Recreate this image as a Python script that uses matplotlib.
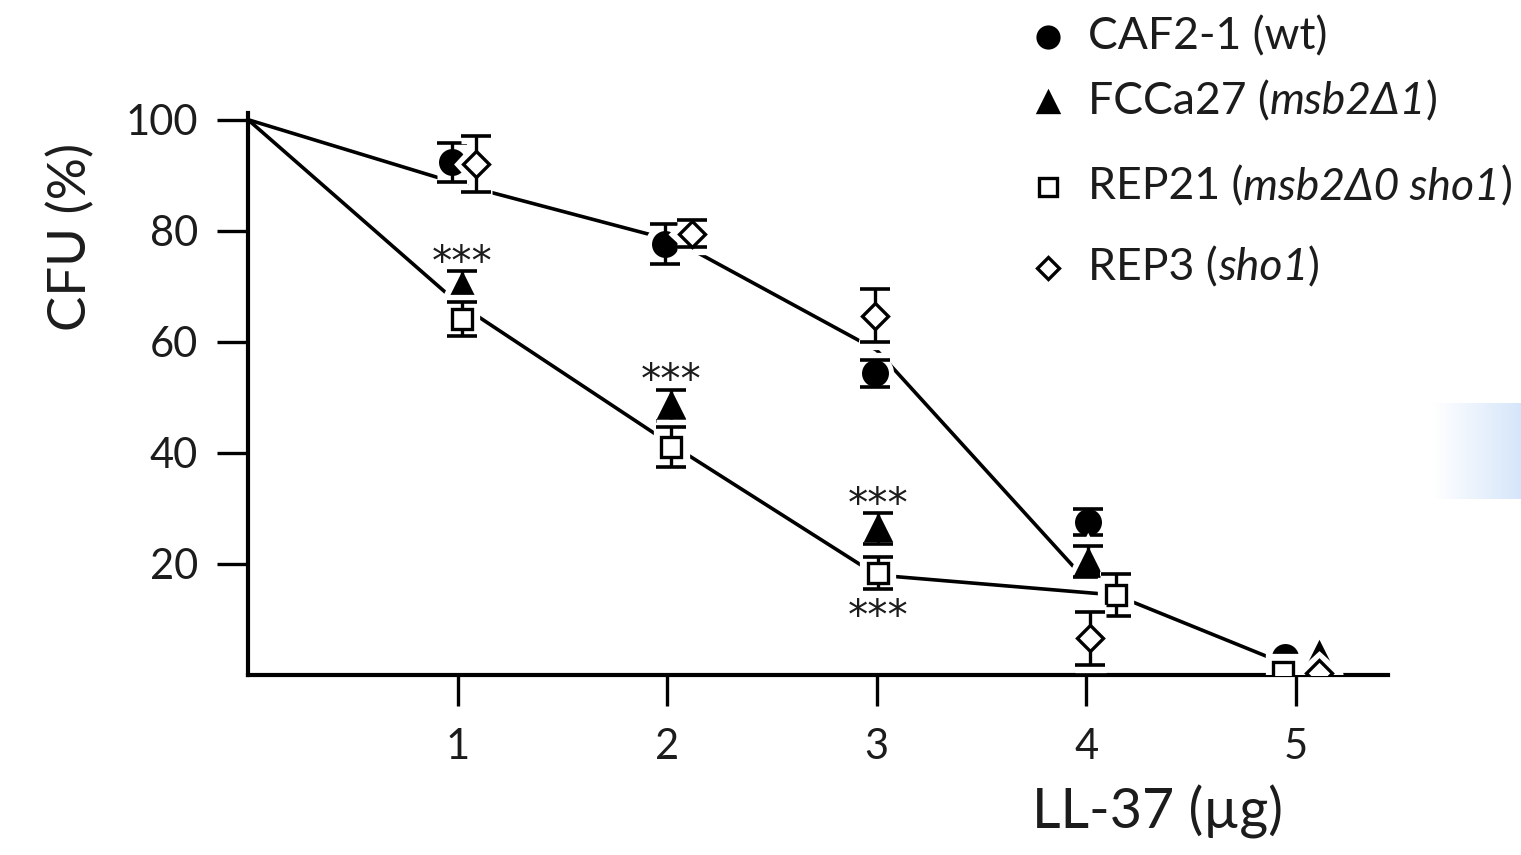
import numpy as np
import matplotlib
matplotlib.use('Agg')
import matplotlib.pyplot as plt
import matplotlib.patheffects as pe
from matplotlib.lines import Line2D
from matplotlib.colors import LinearSegmentedColormap

FAM = ['Lato', 'DejaVu Sans']
plt.rcParams['font.family'] = FAM

# ---------------- data ----------------
wt_x = [0.975, 1.99, 2.99, 4.01, 4.95]
wt_y = [92.3, 77.6, 54.3, 27.6, 3.2]
wt_e = [3.5, 3.6, 2.4, 2.3, 0]

msb_x = [1.02, 2.02, 3.005, 4.01, 5.11]
msb_y = [70.0, 48.6, 26.4, 20.4, 3.6]
msb_e = [2.8, 2.8, 2.8, 2.8, 0]

rep21_x = [1.02, 2.02, 3.005, 4.14, 4.94]
rep21_y = [64.1, 41.1, 18.3, 14.4, 0.6]
rep21_e = [3.0, 3.6, 2.9, 3.8, 0]

rep3_x = [1.09, 2.12, 2.99, 4.02, 5.11]
rep3_y = [92.0, 79.5, 64.7, 6.6, 0.3]
rep3_e = [5.0, 2.4, 4.8, 4.8, 0]

upper_x = [0, 1, 2.05, 3, 4]
upper_y = [100, 88.5, 78.0, 58.5, 17.0]
lower_x = [0, 1, 2, 3, 4.14, 4.95]
lower_y = [100, 67.0, 42.0, 18.0, 14.4, 2.0]

star_x = [1.02, 2.02, 3.005, 3.005]
star_y = [75.5, 54.3, 32.0, 11.8]
star_text = "***"

x_ticks = [1, 2, 3, 4, 5]
y_ticks = [20, 40, 60, 80, 100]
x_label = "LL-37 (µg)"
y_label = "CFU (%)"

legend_labels = [
    [("CAF2-1 (wt)", 'normal')],
    [("FCCa27 (", 'normal'), ("msb2Δ1", 'italic'), (")", 'normal')],
    [("REP21 (", 'normal'), ("msb2Δ0 sho1", 'italic'), (")", 'normal')],
    [("REP3 (", 'normal'), ("sho1", 'italic'), (")", 'normal')],
]

# ---------------- figure ----------------
W, H = 1521, 855
INK = '#1c1c1c'
fig = plt.figure(figsize=(W / 100, H / 100), dpi=100)
ax = fig.add_axes([248 / W, (H - 675) / H, 1140 / W, 562 / H])
ax.set_xlim(0, 5.44)
ax.set_ylim(0, 101.2)

for s in ['top', 'right']:
    ax.spines[s].set_visible(False)
for s in ['left', 'bottom']:
    ax.spines[s].set_linewidth(3)
    ax.spines[s].set_capstyle('projecting')

ax.set_xticks(x_ticks)
ax.set_yticks(y_ticks)
ax.tick_params(axis='both', direction='out', length=22, width=2.4,
               labelsize=30, labelcolor=INK)
ax.tick_params(axis='y', pad=14)
ax.tick_params(axis='x', pad=16)

# trend lines
ax.plot(upper_x, upper_y, color='black', lw=2.6, zorder=1, solid_capstyle='butt')
ax.plot(lower_x, lower_y, color='black', lw=2.6, zorder=1, solid_capstyle='butt')

halo = [pe.withStroke(linewidth=11, foreground='white')]
series = [
    (wt_x, wt_y, wt_e, 'o', 'black', 17, 3),
    (msb_x, msb_y, msb_e, '^', 'black', 17, 4),
    (rep21_x, rep21_y, rep21_e, 's', 'white', 15, 5),
    (rep3_x, rep3_y, rep3_e, 'D', 'white', 13, 6),
]
for xs, ys, es, mk, fc, ms, z in series:
    xs, ys, es = np.array(xs), np.array(ys), np.array(es, dtype=float)
    m = es > 0
    # pass 1: white halo around the whole group
    eb = ax.errorbar(xs[m], ys[m], yerr=es[m], fmt='none', ecolor='white',
                     elinewidth=2.4, capsize=11, capthick=2.6, zorder=z)
    for art in list(eb.lines[1]) + list(eb.lines[2]):
        art.set_path_effects(halo)
        art.set_zorder(z)
    ln, = ax.plot(xs, ys, linestyle='none', marker=mk, markersize=ms,
                  markerfacecolor='white', markeredgecolor='white',
                  markeredgewidth=2.4, zorder=z)
    ln.set_path_effects(halo)
    # pass 2: error bars
    ax.errorbar(xs[m], ys[m], yerr=es[m], fmt='none', ecolor='black',
                elinewidth=2.4, capsize=11, capthick=2.6, zorder=z + 0.2)
    # pass 3: markers
    ax.plot(xs, ys, linestyle='none', marker=mk, markersize=ms,
            markerfacecolor=fc, markeredgecolor='black',
            markeredgewidth=2.4, zorder=z + 0.4)

for sx, sy in zip(star_x, star_y):
    ax.annotate(star_text, (sx, sy), xytext=(0, -6), textcoords='offset points',
                ha='center', va='center', fontsize=29,
                family=['DejaVu Sans'], color=INK, zorder=10)

ax.set_ylabel(y_label, fontsize=38, labelpad=22, color=INK)
ax.yaxis.label.set_position((0, 0.78))
fig.text(1157 / W, 1 - 812 / H, x_label, fontsize=40, ha='center', va='center',
         color=INK)

# ---------------- legend (manual) ----------------
leg_marker_x = 1048
leg_text_x = 1088
leg_rows_y = [37, 102, 187, 268]
leg_styles = [('o', 'black', 15), ('^', 'black', 15), ('s', 'white', 13), ('D', 'white', 11)]
fig.canvas.draw()
renderer = fig.canvas.get_renderer()
for (mk, fc, ms), y, pieces in zip(leg_styles, leg_rows_y, legend_labels):
    fig.add_artist(Line2D([leg_marker_x / W], [1 - y / H], marker=mk, markersize=ms,
                          markerfacecolor=fc, markeredgecolor='black',
                          markeredgewidth=2.4, linestyle='none',
                          transform=fig.transFigure))
    xp = leg_text_x
    for txt, st in pieces:
        t = fig.text(xp / W, 1 - y / H, txt, fontsize=32, style=st,
                     ha='left', va='center', color=INK)
        bb = t.get_window_extent(renderer)
        xp += bb.width

# faint blue gradient patch at the right edge
gax = fig.add_axes([1433 / W, (H - 499) / H, (W - 1433) / W, 96 / H])
cmap = LinearSegmentedColormap.from_list('g', ['white', '#d6e6fa'])
gax.imshow(np.linspace(0, 1, 200)[None, :], cmap=cmap, aspect='auto')
gax.axis('off')

fig.savefig('out.png', dpi=100)
